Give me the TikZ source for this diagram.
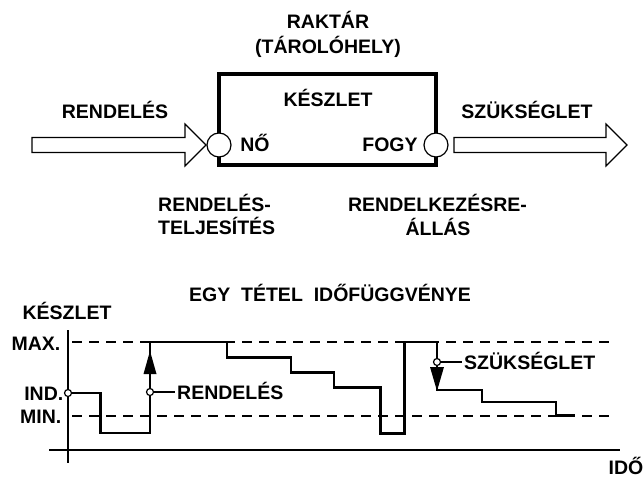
\documentclass[tikz,border=0pt]{standalone}
\usepackage{fontspec}
\newfontfamily\lblfont{Liberation Sans}
\tikzset{
  lbl/.style={font=\lblfont\bfseries\fontsize{19.5}{22}\selectfont, text height=14pt, text depth=0pt, inner sep=2pt},
  port/.style={circle, draw, line width=1.2pt, fill=white, minimum size=24pt, inner sep=0pt},
  dot/.style={circle, draw, line width=1.2pt, fill=white, minimum size=7pt, inner sep=0pt},
  blockarrow/.style={draw, line width=1.2pt, fill=white, line join=miter},
  level/.style={dashed, dash pattern=on 10pt off 7pt, line width=1.3pt},
  axis/.style={line width=1.3pt},
  curve/.style={line width=2.8pt, line join=miter},
  tag/.style={line width=1.2pt}
}
\begin{document}
\begin{tikzpicture}[x=1pt,y=-1pt]
\useasboundingbox (0,0) rectangle (644,481);
% ---------- top part ----------
\node[lbl] (raktar) at (328,21.7) {RAKTÁR};
\node[lbl] (tarolo) at (328,46.3) {(TÁROLÓHELY)};
\node[draw, line width=3.2pt, minimum width=217pt, minimum height=91pt, inner sep=0pt] (box) at (327.5,119.5) {};
\node[lbl] (keszlet) at (328,99.5) {KÉSZLET};
\node[lbl] (no) at (255,145) {NŐ};
\node[lbl] (fogy) at (390,145) {FOGY};
\node[port] (in) at (219,145) {};
\node[port] (out) at (436,145) {};
\draw[blockarrow] (32,137.5) -- (185,137.5) -- (185,124) -- (206,145) -- (185,166) -- (185,152.5) -- (32,152.5) -- cycle;
\draw[blockarrow] (454,137.5) -- (606,137.5) -- (606,124) -- (627,145) -- (606,166) -- (606,152.5) -- (454,152.5) -- cycle;
\node[lbl] (rend) at (115,112) {RENDELÉS};
\node[lbl] (szuk) at (527,112) {SZÜKSÉGLET};
\node[lbl, anchor=west] (rt1) at (156,204) {RENDELÉS-};
\node[lbl, anchor=west] (rt2) at (156,227.5) {TELJESÍTÉS};
\node[lbl] (ra1) at (437.5,204.5) {RENDELKEZÉSRE-};
\node[lbl] (ra2) at (438,228) {ÁLLÁS};
% ---------- bottom part ----------
\node[lbl] (title) at (330,294) {EGY\ \ TÉTEL\ \ IDŐFÜGGVÉNYE};
\node[lbl] (yk) at (67,312) {KÉSZLET};
\draw[axis] (68,330) -- (68,463);
\draw[axis] (49,450) -- (620,450);
\node[lbl] (ido) at (626,467) {IDŐ};
\draw[level] (72,342) -- (612,342);
\draw[level] (72,416) -- (612,416);
\node[lbl, anchor=east] (max) at (62.5,343) {MAX.};
\node[lbl, anchor=east] (min) at (63.5,416) {MIN.};
\node[dot] (ind) at (68,393) {};
\node[lbl, anchor=east] (indl) at (65.5,393) {IND.};
\node[dot] (rc) at (150,392) {};
\node[dot] (sc) at (437,362) {};
\draw[curve] (ind.east) -- (100.6,393) -- (100.6,433) -- (150,433) -- (rc.south);
\draw[curve] (rc.north) -- (150,342) -- (227,342) -- (227,357.5) -- (291,357.5) -- (291,372.5) -- (334,372.5) -- (334,387.5) -- (380.5,387.5) -- (380.5,433.5) -- (404.5,433.5) -- (404.5,342) -- (437,342) -- (sc.north);
\draw[curve] (sc.south) -- (437,390) -- (482,390) -- (482,402) -- (556,402) -- (556,415.5) -- (575,415.5);
\fill (150,351) -- (143.5,374) -- (156.5,374) -- cycle;
\fill (437,391) -- (430,367) -- (444,367) -- cycle;
\node[lbl, anchor=west] (rl) at (175,392) {RENDELÉS};
\node[lbl, anchor=west] (sl) at (462,362) {SZÜKSÉGLET};
\draw[tag] (rc) -- (rl);
\draw[tag] (sc) -- (sl);
\end{tikzpicture}
\end{document}
